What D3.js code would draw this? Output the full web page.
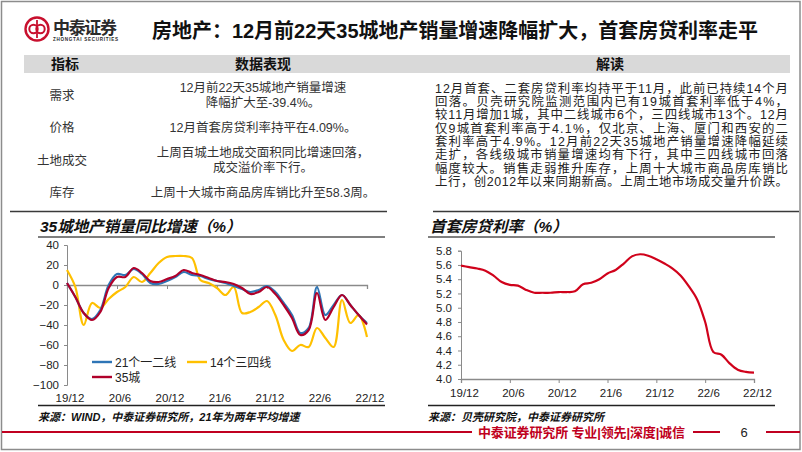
<!DOCTYPE html>
<html><head><meta charset="utf-8">
<script src="https://cdn.jsdelivr.net/npm/d3@7"></script>
<style>
html,body{margin:0;padding:0;background:#fff;}
svg{display:block;}
text{font-family:"Liberation Sans","Noto Sans CJK SC",sans-serif;}
</style></head>
<body><svg id="c" width="802" height="452"></svg>
<script>
// ---------- data ----------
const months = ["19/12","20/1","20/2","20/3","20/4","20/5","20/6","20/7","20/8","20/9","20/10","20/11",
"20/12","21/1","21/2","21/3","21/4","21/5","21/6","21/7","21/8","21/9","21/10","21/11",
"21/12","22/1","22/2","22/3","22/4","22/5","22/6","22/7","22/8","22/9","22/10","22/11","22/12"];
const tickLabels = ["19/12","20/6","20/12","21/6","21/12","22/6","22/12"];
const salesTier12 = [2,-12,-28,-34,-25,0,11,10,16,11,2,1,4,8,13,10,9,6,4,2,-1,-4,-7,-5,-1,-7,-18,-30,-48,-43,-2,-30,-20,-10,-20,-30,-38];
const salesTier34 = [15,-2,-40,-18,-23,-14,-7,-2,8,3,12,22,28,29,29,27,5,2,-3,-10,-2,-28,-27,-22,-16,-30,-55,-66,-60,-62,-43,-53,-62,-15,-38,-30,-52];
const sales35 = [2,-12,-28,-35,-27,-3,8,8,17,12,4,3,6,9,15,12,10,7,4,3,1,-3,-9,-7,-2,-9,-20,-33,-50,-45,-8,-35,-22,-10,-20,-30,-39.4];
const salesTicks = [-100,-80,-60,-40,-20,0,20,40];
const mortgageRate = [5.59,5.57,5.55,5.52,5.45,5.36,5.32,5.31,5.25,5.21,5.21,5.21,5.22,5.22,5.23,5.33,5.35,5.40,5.48,5.53,5.62,5.72,5.75,5.73,5.68,5.62,5.55,5.45,5.30,5.12,4.80,4.38,4.34,4.22,4.13,4.10,4.09];
const rateTicks = [4.0,4.2,4.4,4.6,4.8,5.0,5.2,5.4,5.6,5.8];
const seriesNames = ["21个一二线","14个三四线","35城"];
const tableRows = [
  {k:"需求", v:["12月前22天35城地产销量增速","降幅扩大至-39.4%。"]},
  {k:"价格", v:["12月首套房贷利率持平在4.09%。"]},
  {k:"土地成交", v:["上周百城土地成交面积同比增速回落，","成交溢价率下行。"]},
  {k:"库存", v:["上周十大城市商品房库销比升至58.3周。"]}
];
const commentLines = [
"12月首套、二套房贷利率均持平于11月，此前已持续14个月",
"回落。贝壳研究院监测范围内已有19城首套利率低于4%，",
"较11月增加1城，其中二线城市6个，三四线城市13个。12月",
"仅9城首套利率高于4.1%，仅北京、上海、厦门和西安的二",
"套利率高于4.9%。12月前22天35城地产销量增速降幅延续",
"走扩，各线级城市销量增速均有下行，其中三四线城市回落",
"幅度较大。销售走弱推升库存，上周十大城市商品房库销比",
"上行，创2012年以来同期新高。上周土地市场成交量升价跌。"
];

// ---------- drawing ----------
const svg = d3.select("#c");
const CJK = '"Liberation Sans","Noto Sans CJK SC",sans-serif';

svg.append("rect").attr("x",0).attr("y",0).attr("width",802).attr("height",452).attr("fill","#fff");
svg.append("rect").attr("x",1.5).attr("y",1.5).attr("width",798.5).attr("height",448)
  .attr("fill","none").attr("stroke","#8c8c8c").attr("stroke-width",1.5);

// logo
const logo = svg.append("g");
logo.append("circle").attr("cx",37).attr("cy",29).attr("r",11.5).attr("fill","none").attr("stroke","#c8102e").attr("stroke-width",2.4);
logo.append("circle").attr("cx",33.5).attr("cy",29).attr("r",4.2).attr("fill","none").attr("stroke","#c8102e").attr("stroke-width",2);
logo.append("circle").attr("cx",40.5).attr("cy",29).attr("r",4.2).attr("fill","none").attr("stroke","#c8102e").attr("stroke-width",2);
logo.append("line").attr("x1",37).attr("x2",37).attr("y1",20).attr("y2",38).attr("stroke","#c8102e").attr("stroke-width",1.8);
svg.append("text").attr("x",53).attr("y",34).attr("font-size",17).attr("font-weight",700)
  .attr("fill","#2b2b2b").attr("textLength",64).text("中泰证券");
svg.append("text").attr("x",53).attr("y",40.5).attr("font-size",4.6).attr("font-weight",700)
  .attr("fill","#2b2b2b").attr("textLength",65).text("ZHONGTAI SECURITIES");

// title
svg.append("text").attr("x",152).attr("y",38).attr("font-size",20.5).attr("font-weight",700)
  .attr("fill","#111").attr("textLength",606).attr("lengthAdjust","spacingAndGlyphs")
  .text("房地产：12月前22天35城地产销量增速降幅扩大，首套房贷利率走平");

// table
svg.append("rect").attr("x",24).attr("y",55).attr("width",766).attr("height",18).attr("fill","#d9d9d9");
const hdr = [["指标",65],["数据表现",263],["解读",610]];
svg.selectAll("text.hdr").data(hdr).join("text").attr("class","hdr")
  .attr("x",d=>d[1]).attr("y",69).attr("text-anchor","middle").attr("font-size",14).attr("font-weight",700)
  .attr("fill","#111").text(d=>d[0]);
const rowY = [95,127,160,192];
tableRows.forEach((r,i)=>{
  svg.append("text").attr("x",62).attr("y",rowY[i]+4.5).attr("text-anchor","middle").attr("font-size",12.5)
    .attr("fill","#333").text(r.k);
  const n = r.v.length;
  r.v.forEach((s,j)=>{
    const yy = rowY[i] + (j - (n-1)/2)*14.5 + 4.5;
    svg.append("text").attr("x",263).attr("y",yy).attr("text-anchor","middle").attr("font-size",12.5)
      .attr("fill","#333").text(s);
  });
});
commentLines.forEach((s,j)=>{
  svg.append("text").attr("x",435).attr("y",92.5+j*13.35).attr("font-size",12.4)
    .attr("fill","#222").attr("textLength",353).attr("lengthAdjust","spacing").text(s);
});

// chart section frames
function frame(x1Top,x2Top,x1,x2,title,source){
  svg.append("line").attr("x1",x1Top).attr("x2",x2Top).attr("y1",211.5).attr("y2",211.5).attr("stroke","#3a3a3a").attr("stroke-width",1.5);
  svg.append("text").attr("x",x1+2).attr("y",232).attr("font-size",15.5).attr("font-weight",700)
    .attr("font-style","italic").attr("fill","#111").text(title);
  svg.append("line").attr("x1",x1).attr("x2",x2).attr("y1",237).attr("y2",237).attr("stroke","#7f7f7f").attr("stroke-width",2);
  svg.append("line").attr("x1",x1).attr("x2",x2).attr("y1",405.5).attr("y2",405.5).attr("stroke","#222").attr("stroke-width",1.3);
  svg.append("text").attr("x",x1).attr("y",421).attr("font-size",11).attr("font-weight",700)
    .attr("font-style","italic").attr("fill","#111").text(source);
}
frame(10,387,38,385,"35城地产销量同比增速（%）","来源：WIND，中泰证券研究所，21年为两年平均增速");
frame(433,799,428,775,"首套房贷利率（%）","来源：贝壳研究院，中泰证券研究所");

// ---------- left chart ----------
const xL = d3.scaleLinear().domain([0,36]).range([67,367]);
const yL = d3.scaleLinear().domain([-100,40]).range([385,245]);
const gL = svg.append("g");
const axL = gL.append("g").attr("transform","translate(67,0)")
  .call(d3.axisLeft(yL).tickValues(salesTicks).tickSize(3).tickPadding(5).tickFormat(d3.format("d")));
axL.select(".domain").attr("stroke","#8a8a8a");
axL.selectAll(".tick line").attr("stroke","#8a8a8a");
axL.selectAll(".tick text").attr("font-size",11.5).attr("fill","#222").attr("font-family",CJK);
const tickIdx = tickLabels.map(t=>months.indexOf(t));
const axLx = gL.append("g").attr("transform",`translate(0,${yL(0)})`)
  .call(d3.axisBottom(xL).tickValues(tickIdx).tickSize(4).tickFormat(()=>""));
axLx.select(".domain").attr("stroke","#8a8a8a").attr("stroke-width",1.3);
axLx.selectAll(".tick line").attr("stroke","#8a8a8a");
gL.selectAll("text.xl").data(tickIdx).join("text").attr("class","xl")
  .attr("x",d=>xL(d)+3).attr("y",402).attr("text-anchor","middle").attr("font-size",11.5).attr("fill","#222")
  .text(d=>months[d]);
const lineL = d3.line().x((d,i)=>xL(i)).y(d=>yL(d)).curve(d3.curveCatmullRom.alpha(0.5));
const leftSeries = [
  {name:seriesNames[1], vals:salesTier34, color:"#ffc000"},
  {name:seriesNames[0], vals:salesTier12, color:"#2e75b6"},
  {name:seriesNames[2], vals:sales35, color:"#b0002a"}
];
leftSeries.forEach(s=>{
  gL.append("path").datum(s.vals).attr("d",lineL).attr("fill","none").attr("stroke",s.color).attr("stroke-width",2.2);
});
// legend
const leg = [
  {name:seriesNames[0], color:"#2e75b6", x:92, y:362},
  {name:seriesNames[1], color:"#ffc000", x:187, y:362},
  {name:seriesNames[2], color:"#b0002a", x:92, y:377}
];
leg.forEach(l=>{
  gL.append("line").attr("x1",l.x).attr("x2",l.x+20).attr("y1",l.y).attr("y2",l.y).attr("stroke",l.color).attr("stroke-width",2.4);
  gL.append("text").attr("x",l.x+23).attr("y",l.y+4.5).attr("font-size",12).attr("fill","#222").text(l.name);
});

// ---------- right chart ----------
const xR = d3.scaleLinear().domain([0,36]).range([461,754]);
const yR = d3.scaleLinear().domain([4.0,5.8]).range([379,250.7]);
const gR = svg.append("g");
const axR = gR.append("g").attr("transform","translate(461,0)")
  .call(d3.axisLeft(yR).tickValues(rateTicks).tickSize(3).tickPadding(6).tickFormat(d3.format(".1f")));
axR.select(".domain").attr("stroke","#8a8a8a");
axR.selectAll(".tick line").attr("stroke","#8a8a8a");
axR.selectAll(".tick text").attr("font-size",11.5).attr("fill","#222").attr("font-family",CJK);
const axRx = gR.append("g").attr("transform",`translate(0,${yR(4.0)})`)
  .call(d3.axisBottom(xR).tickValues(tickIdx).tickSize(4).tickPadding(6).tickFormat(d=>months[d]));
axRx.select(".domain").attr("stroke","#8a8a8a").attr("stroke-width",1.3);
axRx.selectAll(".tick line").attr("stroke","#8a8a8a");
axRx.selectAll(".tick text").attr("font-size",11.5).attr("fill","#222").attr("font-family",CJK).attr("dx",3);
const lineR = d3.line().x((d,i)=>xR(i)).y(d=>yR(d)).curve(d3.curveCatmullRom.alpha(0.5));
gR.append("path").datum(mortgageRate).attr("d",lineR).attr("fill","none").attr("stroke","#d0021b").attr("stroke-width",2.2);

// ---------- footer ----------
svg.append("line").attr("x1",2).attr("x2",472).attr("y1",432).attr("y2",432).attr("stroke","#c00020").attr("stroke-width",2);
svg.append("text").attr("x",685).attr("y",437).attr("text-anchor","end").attr("font-size",13).attr("font-weight",700)
  .attr("fill","#c00020").attr("textLength",207).text("中泰证券研究所 专业|领先|深度|诚信");
svg.append("line").attr("x1",693).attr("x2",720).attr("y1",432).attr("y2",432).attr("stroke","#c00020").attr("stroke-width",2);
svg.append("text").attr("x",744).attr("y",437).attr("text-anchor","middle").attr("font-size",13)
  .attr("font-family","Liberation Serif").attr("fill","#222").text("6");
svg.append("line").attr("x1",766).attr("x2",800).attr("y1",432).attr("y2",432).attr("stroke","#c00020").attr("stroke-width",2);
</script></body></html>
